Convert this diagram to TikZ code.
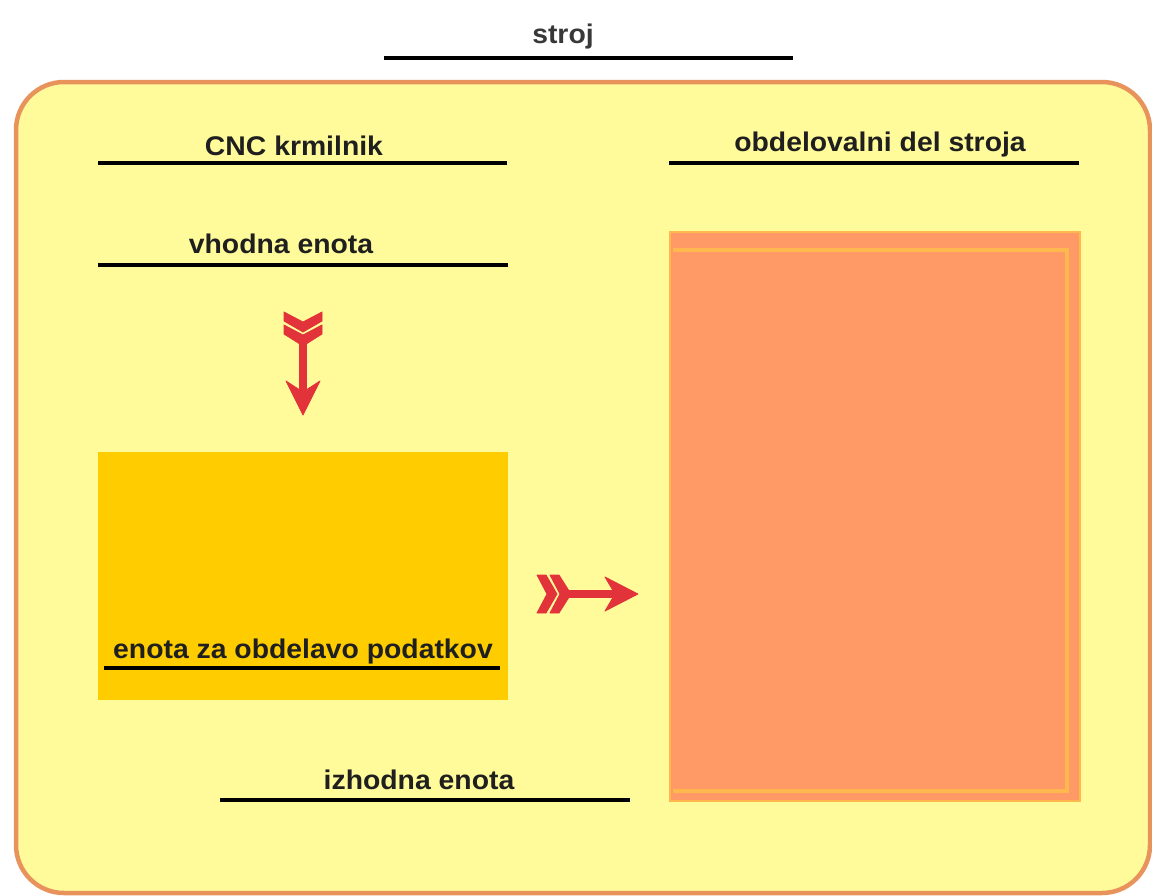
\documentclass[tikz,border=0pt]{standalone}
\usepackage{fontspec}
\setmainfont{Liberation Sans}
\definecolor{paleyellow}{HTML}{FFFB9A}
\definecolor{frameorange}{HTML}{E8935C}
\definecolor{goldbox}{HTML}{FFCC00}
\definecolor{salmon}{HTML}{FF9966}
\definecolor{lightorange}{HTML}{FFB84D}
\definecolor{arrowred}{HTML}{E2323A}
\newcommand{\wide}[1]{\scalebox{1.05}[1]{#1}}
\tikzset{
  lbl/.style={font=\bfseries\fontsize{27}{30}\selectfont, inner sep=0pt, anchor=base, text=black!88},
  rule/.style={line width=4pt, black},
  redshape/.style={fill=arrowred, draw=arrowred, line width=0.8pt, line join=round},
}
\begin{document}
\begin{tikzpicture}[x=1pt,y=-1pt]
\useasboundingbox (0,0) rectangle (1152,895);
\fill[white] (0,0) rectangle (1152,895);

% outer machine frame
\draw[fill=paleyellow, draw=frameorange, line width=4.5pt, rounded corners=48pt]
  (16,82) rectangle (1150,893);

% title
\node[lbl, text=black!78] (stroj) at (563,43) {\wide{stroj}};
\coordinate (s1) at (384,58); \coordinate (s2) at (793,58);
\draw[rule] (s1) -- (s2);

% CNC krmilnik
\node[lbl] (cnc) at (294,155) {\wide{CNC krmilnik}};
\coordinate (c1) at (98,163); \coordinate (c2) at (507,163);
\draw[rule] (c1) -- (c2);

% obdelovalni del stroja
\node[lbl] (obd) at (880,151) {\wide{obdelovalni del stroja}};
\coordinate (o1) at (669,163); \coordinate (o2) at (1079,163);
\draw[rule] (o1) -- (o2);

% vhodna enota
\node[lbl] (vh) at (281,253) {\wide{vhodna enota}};
\coordinate (v1) at (98,265); \coordinate (v2) at (508,265);
\draw[rule] (v1) -- (v2);

% data processing unit
\fill[goldbox] (98,452) rectangle (508,700);
\node[lbl] (proc) at (303,658) {\wide{enota za obdelavo podatkov}};
\coordinate (p1) at (104,668); \coordinate (p2) at (500,668);
\draw[rule] (p1) -- (p2);

% izhodna enota
\node[lbl] (izh) at (419,789) {\wide{izhodna enota}};
\coordinate (i1) at (220,800); \coordinate (i2) at (630,800);
\draw[rule] (i1) -- (i2);

% machining part box
\fill[salmon] (669,231) rectangle (1081,802);
\draw[lightorange, line width=2pt] (670,232) rectangle (1080,801);
\draw[lightorange, line width=4pt] (673,250) -- (1067,250) -- (1067,791) -- (673,791);

% down arrow (vhodna enota -> obdelava)
\begin{scope}[shift={(303,0)}]
  \fill[redshape] (-3.5,335) rectangle (3.5,395);
  \filldraw[redshape] (-19,312) -- (0,322) -- (19,312) -- (19,321) -- (0,332) -- (-19,321) -- cycle;
  \filldraw[redshape] (-19,325) -- (0,335) -- (19,325) -- (19,334) -- (0,346) -- (-19,334) -- cycle;
  \filldraw[redshape] (-17,381) -- (0,392) -- (17,381) -- (0,415) -- cycle;
\end{scope}

% right arrow (obdelava -> stroj)
\begin{scope}[shift={(0,594)}]
  \fill[redshape] (565,-3.5) rectangle (622,3.5);
  \filldraw[redshape] (537,-19) -- (547,0) -- (537,19) -- (546,19) -- (557,0) -- (546,-19) -- cycle;
  \filldraw[redshape] (550,-19) -- (560,0) -- (550,19) -- (559,19) -- (571,0) -- (559,-19) -- cycle;
  \filldraw[redshape] (605,-17) -- (615,0) -- (605,17) -- (638,0) -- cycle;
\end{scope}
\end{tikzpicture}
\end{document}
